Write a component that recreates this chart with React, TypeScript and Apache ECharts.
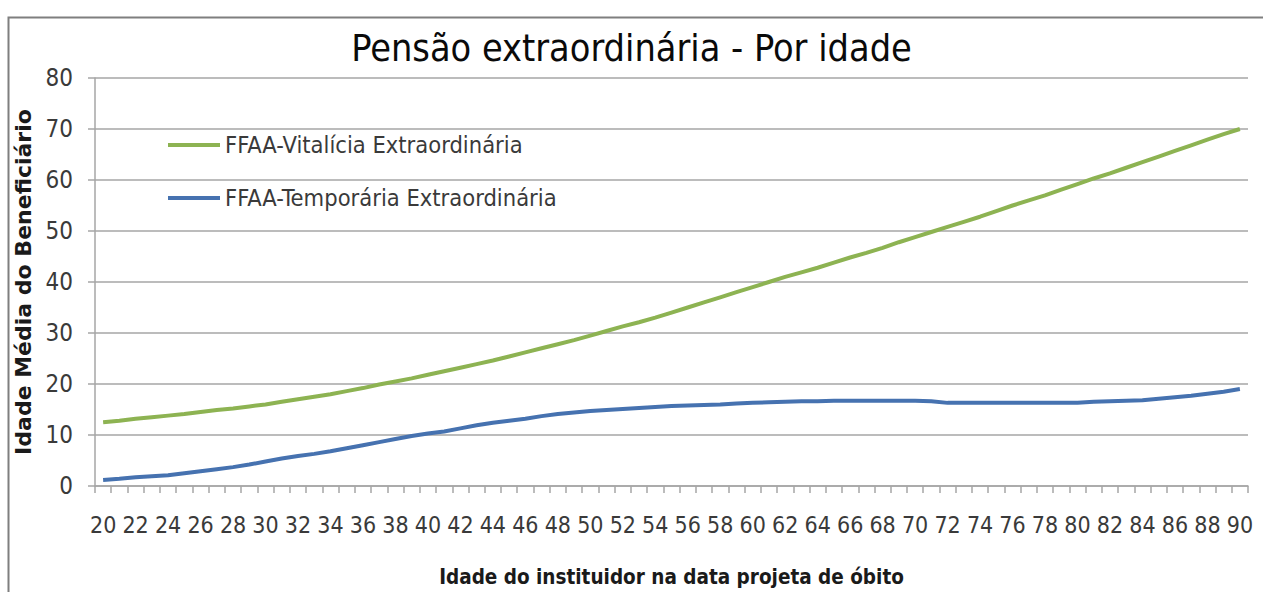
import React, { useEffect, useRef } from "react";
import * as echarts from "echarts";

const ages: string[] = [];
for (let a = 20; a <= 90; a++) ages.push(String(a));

const vitalicia = [
  12.5, 12.8, 13.2, 13.5, 13.8, 14.1, 14.5, 14.9, 15.2, 15.6,
  16.0, 16.5, 17.0, 17.5, 18.0, 18.6, 19.2, 19.9, 20.5, 21.1,
  21.8, 22.5, 23.2, 23.9, 24.6, 25.4, 26.2, 27.0, 27.8, 28.6,
  29.5, 30.4, 31.3, 32.1, 33.0, 34.0, 35.0, 36.0, 37.0, 38.0,
  39.0, 40.0, 41.0, 41.9, 42.8, 43.8, 44.8, 45.7, 46.7, 47.8,
  48.8, 49.8, 50.8, 51.8, 52.8, 53.9, 55.0, 56.0, 57.0, 58.1,
  59.2, 60.3, 61.3, 62.4, 63.5, 64.6, 65.7, 66.8, 67.9, 69.0,
  70.0,
];

const temporaria = [
  1.2, 1.4, 1.7, 1.9, 2.1, 2.5, 2.9, 3.3, 3.7, 4.2,
  4.8, 5.4, 5.9, 6.3, 6.8, 7.4, 8.0, 8.6, 9.2, 9.8,
  10.3, 10.7, 11.3, 11.9, 12.4, 12.8, 13.2, 13.7, 14.1, 14.4,
  14.7, 14.9, 15.1, 15.3, 15.5, 15.7, 15.8, 15.9, 16.0, 16.2,
  16.3, 16.4, 16.5, 16.6, 16.6, 16.7, 16.7, 16.7, 16.7, 16.7,
  16.7, 16.6, 16.3, 16.3, 16.3, 16.3, 16.3, 16.3, 16.3, 16.3,
  16.3, 16.5, 16.6, 16.7, 16.8, 17.1, 17.4, 17.7, 18.1, 18.5,
  19.0,
];

const yTicks = [0, 10, 20, 30, 40, 50, 60, 70, 80];

const FONT = "'DejaVu Sans Condensed', 'Liberation Sans Narrow', sans-serif";

export default function App() {
  const ref = useRef<HTMLDivElement>(null);
  useEffect(() => {
    if (!ref.current) return;
    const chart = echarts.init(ref.current, undefined, { renderer: "svg" });
    chart.setOption({
      animation: false,
      backgroundColor: "#ffffff",
      title: {
        text: "Pensão extraordinária - Por idade",
        left: "center",
        top: 24,
        textStyle: { fontFamily: FONT, fontSize: 37.5, fontWeight: "normal", color: "#0a0a0a" },
      },
      graphic: [
        {
          type: "rect",
          shape: { x: 8.5, y: 17.5, width: 1300, height: 700 },
          style: { fill: "none", stroke: "#7f7f7f", lineWidth: 2 },
          silent: true,
        },
      ],
      legend: {
        orient: "vertical",
        left: 163,
        top: 128,
        itemWidth: 52,
        itemHeight: 4,
        itemGap: 29,
        icon: "rect",
        textStyle: { fontFamily: FONT, fontSize: 23.5, color: "#3a3a3a" },
        data: ["FFAA-Vitalícia Extraordinária", "FFAA-Temporária Extraordinária"],
      },
      grid: { left: 95, right: 15, top: 78, bottom: 104 },
      xAxis: {
        type: "category",
        data: ages,
        boundaryGap: true,
        name: "Idade do instituidor na data projeta de óbito",
        nameLocation: "middle",
        nameGap: 80,
        nameTextStyle: { fontFamily: FONT, fontSize: 20.5, fontWeight: "bold", color: "#1a1a1a" },
        axisLine: { lineStyle: { color: "#a6a6a6", width: 1.5 } },
        axisTick: { show: true, interval: 0, length: 7, lineStyle: { color: "#a6a6a6", width: 1.5 } },
        axisLabel: { interval: 1, fontFamily: FONT, fontSize: 23, color: "#3a3a3a", margin: 27 },
      },
      yAxis: {
        type: "value",
        min: yTicks[0],
        max: yTicks[yTicks.length - 1],
        interval: 10,
        name: "Idade Média do Beneficiário",
        nameLocation: "middle",
        nameGap: 53,
        nameTextStyle: { fontFamily: "'DejaVu Sans', sans-serif", fontSize: 22, fontWeight: "bold", color: "#1a1a1a" },
        axisLine: { show: true, lineStyle: { color: "#a6a6a6", width: 1.5 } },
        axisTick: { show: true, length: 7, lineStyle: { color: "#a6a6a6", width: 1.5 } },
        axisLabel: { fontFamily: FONT, fontSize: 24, color: "#3a3a3a", margin: 22 },
        splitLine: { lineStyle: { color: "#a6a6a6", width: 1.5 } },
      },
      series: [
        {
          name: "FFAA-Vitalícia Extraordinária",
          type: "line",
          data: vitalicia,
          symbol: "none",
          lineStyle: { color: "#8db352", width: 4 },
          itemStyle: { color: "#8db352" },
        },
        {
          name: "FFAA-Temporária Extraordinária",
          type: "line",
          data: temporaria,
          symbol: "none",
          lineStyle: { color: "#4672b0", width: 4 },
          itemStyle: { color: "#4672b0" },
        },
      ],
    });
    return () => chart.dispose();
  }, []);
  return (
    <div
      ref={ref}
      style={{ position: "fixed", left: 0, top: 0, width: 1263, height: 592 }}
    />
  );
}
